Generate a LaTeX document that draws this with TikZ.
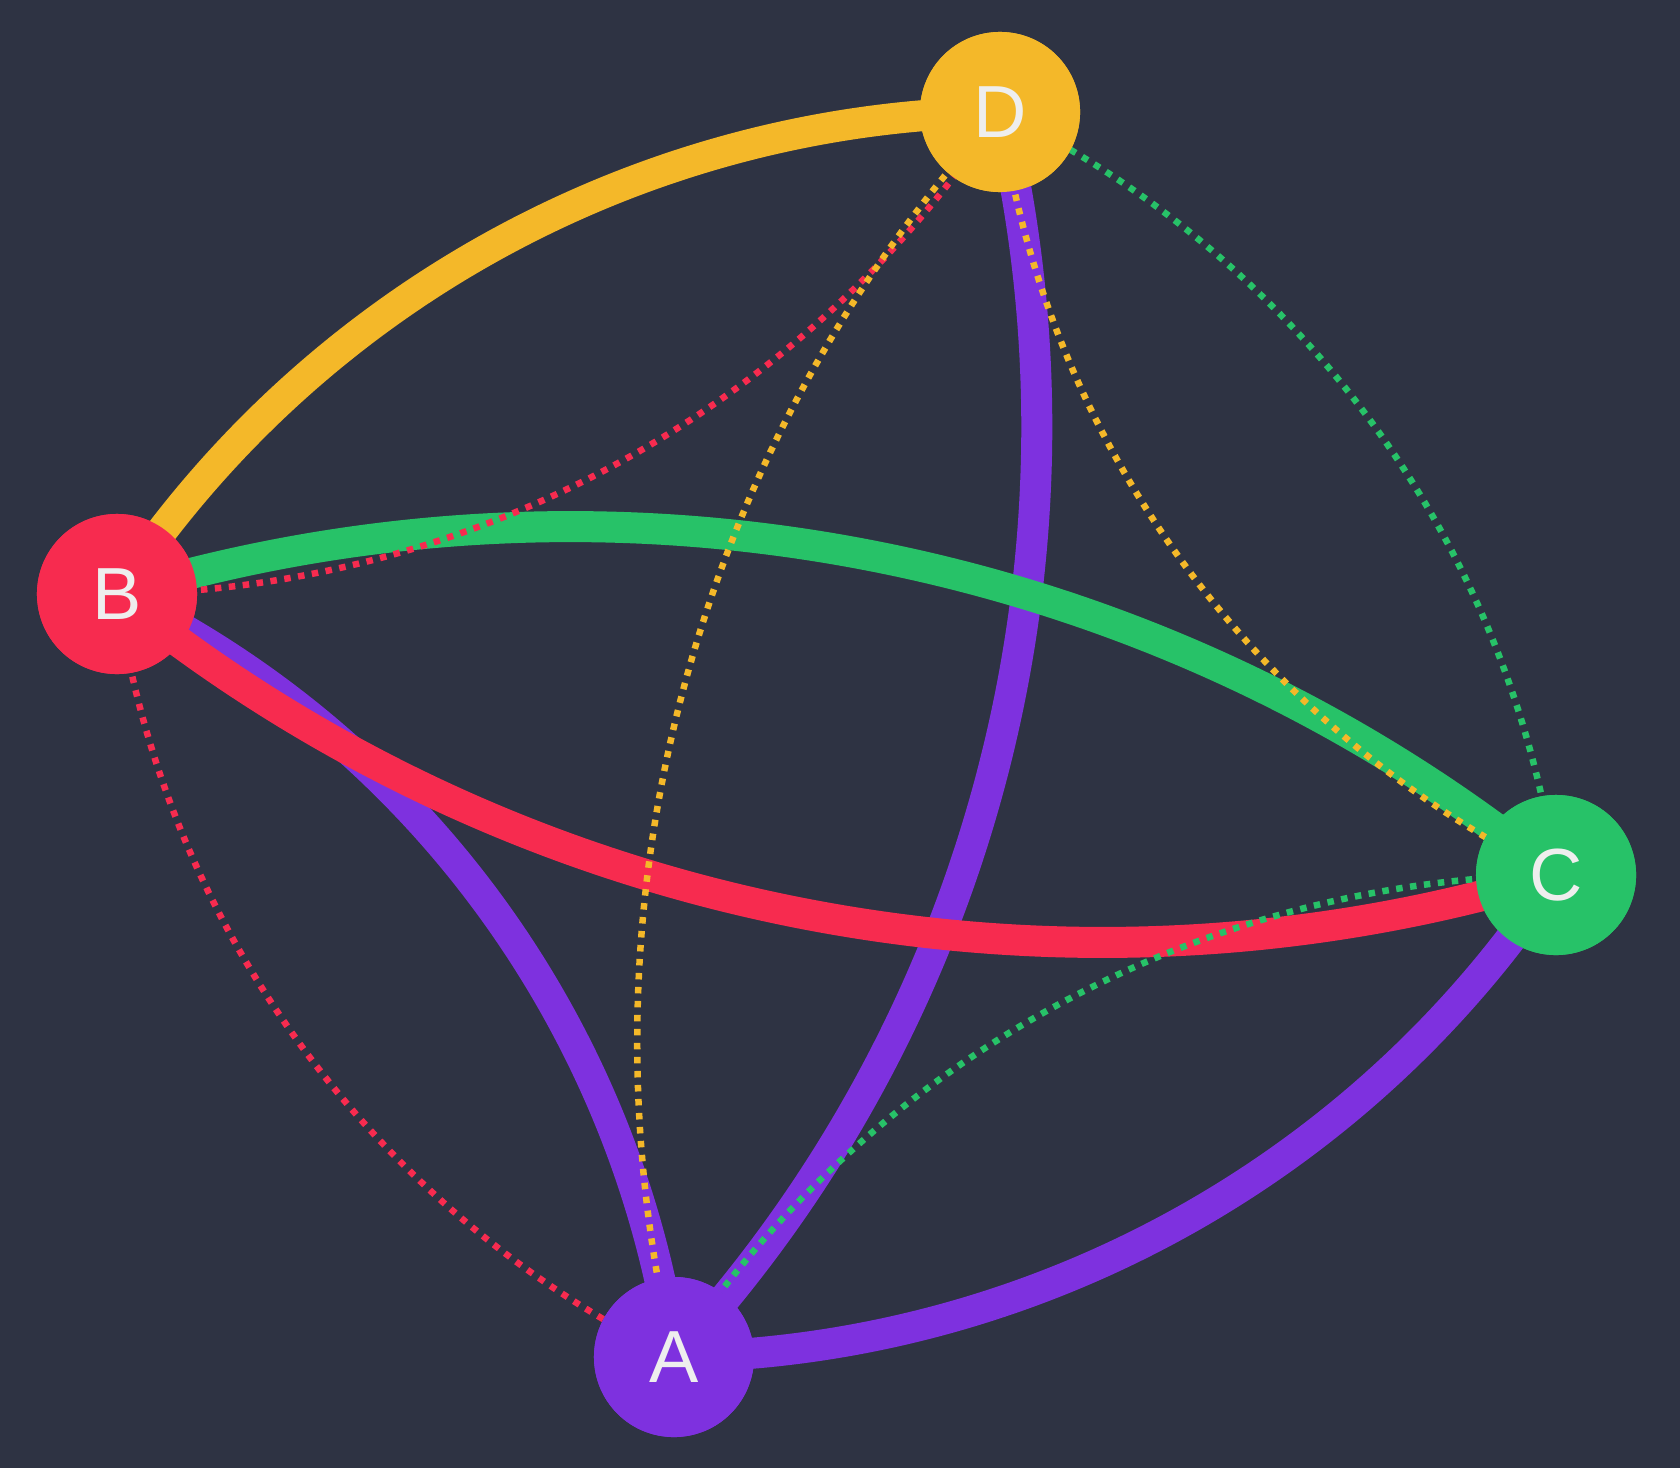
\documentclass[tikz,border=0pt]{standalone}
\usepackage{fontspec}
\setmainfont{Liberation Sans}
\definecolor{bg}{HTML}{2E3343}
\definecolor{cyel}{HTML}{F4B829}
\definecolor{cred}{HTML}{F72B4F}
\definecolor{cgrn}{HTML}{27C268}
\definecolor{cpur}{HTML}{7E31DF}
\definecolor{ctxt}{HTML}{EEEEEE}
\tikzset{
  vtx/.style={circle, draw=none, minimum size=1.6cm, inner sep=0pt, text=ctxt, font=\fontsize{21}{21}\selectfont},
  arcbend/.style={bend right=28, looseness=0.904},
  thickedge/.style={line width=0.31cm, arcbend},
  dotedge/.style={line width=0.065cm, dash pattern=on 0.065cm off 0.075cm, arcbend},
}
\begin{document}
\begin{tikzpicture}[x=0.01cm,y=0.01cm]
\fill[bg] (0,0) rectangle (1680,1468);
\useasboundingbox (0,0) rectangle (1680,1468);
\node[vtx, fill=cyel] (D) at (1000,1356) {D};
\node[vtx, fill=cred] (B) at (117,874) {B};
\node[vtx, fill=cgrn] (C) at (1556,593) {C};
\node[vtx, fill=cpur] (A) at (674,111) {A};
% thick edges (centre to centre; the nodes are drawn again on top)
\draw[thickedge, cpur] (A.center) to (B.center);
\draw[thickedge, cpur] (A.center) to (C.center);
\draw[thickedge, cpur] (A.center) to (D.center);
\draw[thickedge, cred] (B.center) to (C.center);
\draw[thickedge, cgrn] (C.center) to (B.center);
\draw[thickedge, cyel] (D.center) to (B.center);
% dotted edges
\draw[dotedge, cred] (B.center) to (D.center);
\draw[dotedge, cred] (B.center) to (A.center);
\draw[dotedge, cgrn] (C.center) to (D.center);
\draw[dotedge, cgrn] (C.center) to (A.center);
\draw[dotedge, cyel] (D.center) to (A.center);
\draw[dotedge, cyel] (D.center) to (C.center);
% nodes on top
\node[vtx, fill=cyel] at (D) {D};
\node[vtx, fill=cred] at (B) {B};
\node[vtx, fill=cgrn] at (C) {C};
\node[vtx, fill=cpur] at (A) {A};
\end{tikzpicture}
\end{document}
